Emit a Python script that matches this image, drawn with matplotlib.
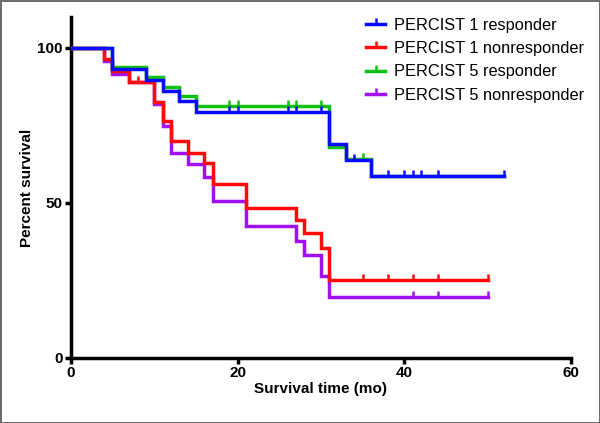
import matplotlib
matplotlib.use("Agg")
import matplotlib.pyplot as plt
from matplotlib.lines import Line2D
import numpy as np

plt.rcParams["font.family"] = ["Liberation Sans", "DejaVu Sans"]

# ── Kaplan-Meier data ────────────────────────────────────────────────────────
blue_t = [0, 5, 9, 11, 13, 15, 31, 33, 36, 52]
blue_s = [100, 93.1, 89.7, 86.2, 82.8, 79.3, 69.0, 63.9, 58.8, 58.8]
blue_cens = [19, 20, 26, 27, 30, 34, 38, 40, 41, 42, 44, 52]

red_t = [0, 4, 5, 7, 10, 11, 12, 14, 16, 17, 21, 27, 28, 30, 31, 50]
red_s = [100, 96.3, 92.6, 88.9, 82.5, 76.5, 70.0, 66.2, 62.8, 56.0, 48.4,
         44.4, 40.4, 35.4, 25.2, 25.2]
red_cens = [8, 35, 38, 41, 44, 50]

green_t = [0, 5, 9, 11, 13, 15, 31, 33, 36, 52]
green_s = [100, 93.8, 90.6, 87.5, 84.4, 81.3, 68.1, 64.0, 58.8, 58.8]
green_cens = [19, 20, 26, 27, 30, 35]

purple_t = [0, 4, 5, 7, 10, 11, 12, 14, 16, 17, 21, 27, 28, 30, 31, 50]
purple_s = [100, 95.8, 91.7, 88.9, 81.8, 74.8, 66.2, 62.5, 58.4, 50.6, 42.4,
            37.7, 33.1, 26.5, 19.7, 19.7]
purple_cens = [41, 44, 50]

labels = ["PERCIST 1 responder", "PERCIST 1 nonresponder",
          "PERCIST 5 responder", "PERCIST 5 nonresponder"]
colors = ["#0a0aff", "#ff0a0a", "#10c010", "#a010f0"]
series = [(blue_t, blue_s, blue_cens), (red_t, red_s, red_cens),
          (green_t, green_s, green_cens), (purple_t, purple_s, purple_cens)]

fig = plt.figure(figsize=(6, 4.23), dpi=100)
fig.patch.set_edgecolor("#6e6e6e")
fig.patch.set_linewidth(2)
ax = fig.add_axes([0.118, 0.154, 0.834, 0.806])

LW = 2.5
# blue on top, purple at the bottom
for i, ((t, s, c), col) in enumerate(zip(series, colors)):
    z = 10 - i
    ax.step(t, s, where="post", color=col, lw=LW, zorder=z,
            solid_joinstyle="miter")
    t_arr = np.asarray(t)
    s_arr = np.asarray(s)
    idx = np.searchsorted(t_arr, c, side="right") - 1
    ax.plot(c, s_arr[idx], linestyle="none", marker=2, markersize=4,
            markeredgewidth=1.8, color=col, zorder=z)

ax.set_xlim(0, 60)
ax.set_ylim(0, 110)
ax.set_xticks([0, 20, 40, 60])
ax.set_yticks([0, 50, 100])
for sp in ["top", "right"]:
    ax.spines[sp].set_visible(False)
for sp in ["left", "bottom"]:
    ax.spines[sp].set_linewidth(2.5)
ax.tick_params(width=2.5, length=4.5, labelsize=11, pad=1.5)
for lb in ax.get_xticklabels() + ax.get_yticklabels():
    lb.set_fontweight("bold")

ax.set_xlabel("Survival time (mo)", fontsize=11, fontweight="bold",
              labelpad=1)
ax.set_ylabel("Percent survival", fontsize=11, fontweight="bold",
              labelpad=2)

handles = [Line2D([], [], color=col, lw=LW, marker=2, markersize=4,
                  markeredgewidth=1.8) for col in colors]
ax.legend(handles, labels, loc="upper left", bbox_to_anchor=(0.56, 1.04),
          frameon=False, fontsize=11.8, numpoints=1, handlelength=1.2,
          handletextpad=0.5, labelspacing=0.5)

plt.savefig("out.png", dpi=100)
plt.close()
